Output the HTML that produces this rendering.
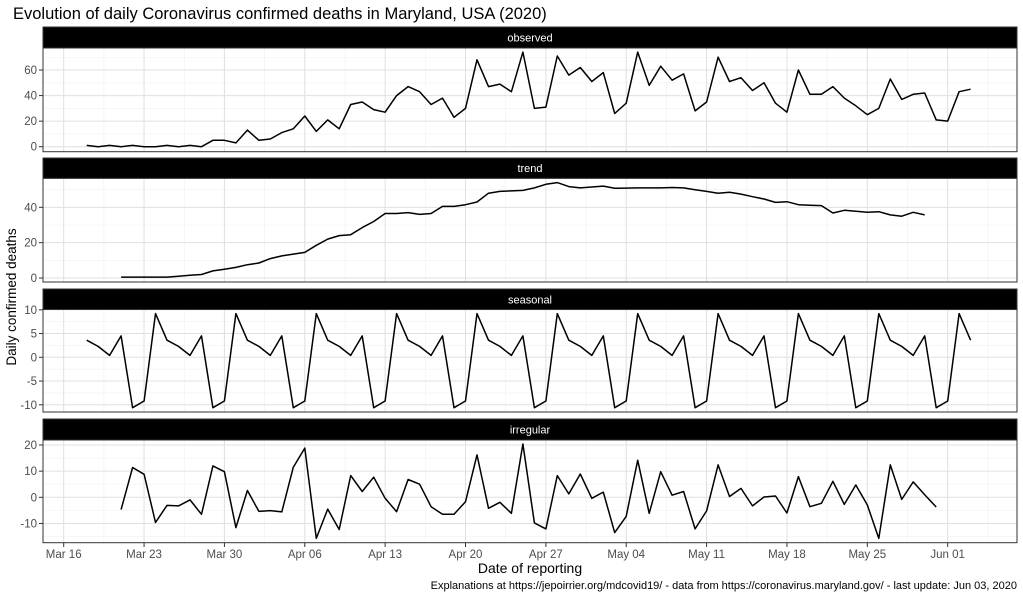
<!DOCTYPE html>
<html><head><meta charset="utf-8"><style>
html,body{margin:0;padding:0;background:#fff;}
svg{display:block;font-family:"Liberation Sans",Arial,sans-serif;}
</style></head><body>
<svg id="s" width="1023" height="597" xmlns="http://www.w3.org/2000/svg">
<text x="13" y="19" font-size="16.5" fill="#000">Evolution of daily Coronavirus confirmed deaths in Maryland, USA (2020)</text>
<text transform="translate(16,297) rotate(-90)" text-anchor="middle" font-size="13.5" fill="#000">Daily confirmed deaths</text>
<text x="530" y="573" text-anchor="middle" font-size="14" fill="#000">Date of reporting</text>
<text x="1017" y="589" text-anchor="end" font-size="11" fill="#000">Explanations at https://jepoirrier.org/mdcovid19/ - data from https://coronavirus.maryland.gov/ - last update: Jun 03, 2020</text>
</svg>
<script>
var NS="http://www.w3.org/2000/svg",S=document.getElementById('s');
function el(t,a,txt){var e=document.createElementNS(NS,t);for(var k in a)e.setAttribute(k,a[k]);if(txt!==undefined)e.textContent=txt;S.appendChild(e);return e;}
var L=43,R=1017;function X(d){return 63.7+11.48*d;}
var obs=[1,0,1,0,1,0,0,1,0,1,0,5,5,3,13,5,6,11,14,24,12,21,14,33,35,29,27,40,47,43,33,38,23,30,68,47,49,43,74,30,31,71,56,62,51,58,26,34,74,48,63,52,57,28,35,70,51,54,44,50,34,27,60,41,41,47,38,32,25,30,53,37,41,42,21,20,43,45];
var tr=[0.5,0.5,0.5,0.5,0.5,1,1.5,2,4,5,6,7.5,8.5,11,12.5,13.5,14.5,18.5,22,24,24.5,28.5,32,36.5,36.5,37,36,36.5,40.5,40.5,41.5,43,48,49,49.3,49.6,51,53,54,51.7,51,51.5,52,50.8,50.9,51,51,51,51.2,51,50,49,48,48.5,47.5,46,44.7,42.8,43.2,41.5,41.2,41,36.8,38.3,37.8,37.2,37.5,35.7,35,37.2,35.7];
var sp=[3.6,2.3,0.4,4.5,-10.6,-9.2,9.2],se=[];for(var d=2;d<=79;d++)se.push(sp[(d-2)%7]);
var ir=[-4.7,11.4,8.8,-9.6,-3.1,-3.3,-1,-6.5,12,9.8,-11.6,2.6,-5.4,-5.1,-5.6,11.5,18.8,-15.7,-4.5,-12.3,8.3,2.2,7.7,-0.4,-5.5,6.8,5,-3.6,-6.5,-6.5,-1.7,16.2,-4.2,-1.9,-6.1,20.4,-9.8,-12.1,8.3,1.3,8.9,-0.4,2,-13.5,-7.3,14.2,-6.1,9.8,0.8,2.2,-12.1,-5.2,12.4,0.3,3.4,-3.3,0.1,0.5,-6,7.9,-3.6,-2.3,6.1,-2.7,4.7,-2.9,-15.7,12.4,-0.8,5.9,1,-3.7];
var P=[
{n:"observed",st:27,top:48,bot:151.7,z:146.7,k:1.278,maj:[0,20,40,60],min:[10,30,50,70],d0:2,data:obs},
{n:"trend",st:158,top:178.3,bot:282,z:278,k:1.767,maj:[0,20,40],min:[10,30,50],d0:5,data:tr},
{n:"seasonal",st:289,top:309.5,bot:412,z:357.3,k:4.75,maj:[-10,-5,0,5,10],min:[-7.5,-2.5,2.5,7.5],d0:2,data:se},
{n:"irregular",st:419,top:440,bot:542.7,z:497.3,k:2.615,maj:[-10,0,10,20],min:[-15,-5,5,15],d0:5,data:ir}];
var ticks=["Mar 16","Mar 23","Mar 30","Apr 06","Apr 13","Apr 20","Apr 27","May 04","May 11","May 18","May 25","Jun 01"];
P.forEach(function(p){
 el('rect',{x:L,y:p.top,width:R-L,height:p.bot-p.top,fill:'#fff'});
 p.min.forEach(function(v){var y=p.z-v*p.k;if(y>p.top&&y<p.bot)el('line',{x1:L,x2:R,y1:y,y2:y,stroke:'#f0f0f0','stroke-width':0.6});});
 for(var w=-0.5;w<12;w++){var x=X(w*7);if(x>L&&x<R)el('line',{x1:x,x2:x,y1:p.top,y2:p.bot,stroke:'#f0f0f0','stroke-width':0.6});}
 p.maj.forEach(function(v){var y=p.z-v*p.k;el('line',{x1:L,x2:R,y1:y,y2:y,stroke:'#e0e0e0','stroke-width':1});
  el('line',{x1:39,x2:L,y1:y,y2:y,stroke:'#333','stroke-width':1});
  el('text',{x:37,y:y+4,'text-anchor':'end','font-size':11.5,fill:'#4d4d4d'},String(v));});
 for(var w=0;w<12;w++){var x=X(w*7);el('line',{x1:x,x2:x,y1:p.top,y2:p.bot,stroke:'#e0e0e0','stroke-width':1});}
 var pts=p.data.map(function(v,i){return X(p.d0+i).toFixed(1)+','+(p.z-v*p.k).toFixed(1);}).join(' ');
 el('polyline',{points:pts,fill:'none',stroke:'#000','stroke-width':1.5,'stroke-linejoin':'round'});
 el('rect',{x:L,y:p.top,width:R-L,height:p.bot-p.top,fill:'none',stroke:'#333','stroke-width':1});
 el('rect',{x:L,y:p.st,width:R-L,height:p.top-p.st,fill:'#000',stroke:'#333','stroke-width':1});
 el('text',{x:(L+R)/2,y:(p.st+p.top)/2+4,'text-anchor':'middle','font-size':11,fill:'#fff'},p.n);
});
ticks.forEach(function(t,w){var x=X(w*7);el('line',{x1:x,x2:x,y1:542.7,y2:547,stroke:'#333','stroke-width':1});
 el('text',{x:x,y:558,'text-anchor':'middle','font-size':11.5,fill:'#4d4d4d'},t);});
</script>
</body></html>
